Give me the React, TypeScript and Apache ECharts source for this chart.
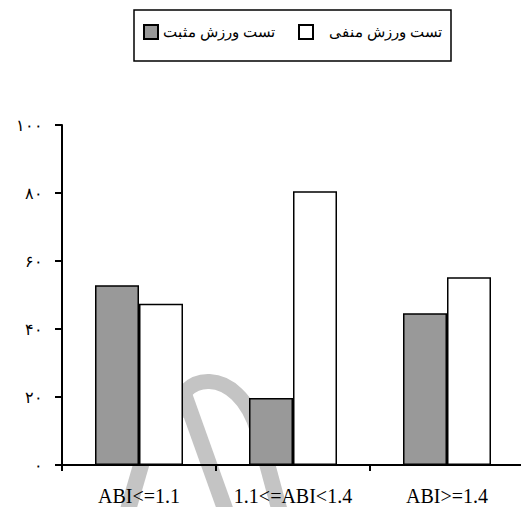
import React, { useEffect, useRef } from "react";
import * as echarts from "echarts";

const categories = ["ABI<=1.1", "1.1<=ABI<1.4", "ABI>=1.4"];
const seriesNames = ["تست ورزش مثبت", "تست ورزش منفی"];
const positiveValues = [52.9, 19.7, 44.6];
const negativeValues = [47.4, 80.5, 55.2];
const yMin = 0;
const yMax = 100;
const yInterval = 20;

const faDigits = "۰۱۲۳۴۵۶۷۸۹";
const toFa = (v: number | string) => String(v).replace(/\d/g, (d) => faDigits[+d]);

const SERIF = "Liberation Serif, Times New Roman, serif";
const WM = "#c4c4c4";

const legendText = { fontFamily: SERIF, fontSize: 15, color: "#000" };

export default function App() {
  const ref = useRef<HTMLDivElement>(null);
  useEffect(() => {
    if (!ref.current) return;
    const chart = echarts.init(ref.current, undefined, { renderer: "svg" });
    chart.setOption({
      animation: false,
      backgroundColor: "#ffffff",
      textStyle: { fontFamily: SERIF, color: "#000" },
      legend: [
        {
          left: 143,
          top: 24,
          padding: 0,
          itemWidth: 14,
          itemHeight: 14,
          icon: "rect",
          textStyle: legendText,
          data: [seriesNames[0]],
        },
        {
          left: 298,
          top: 24,
          padding: 0,
          itemWidth: 14,
          itemHeight: 14,
          icon: "rect",
          textStyle: legendText,
          formatter: (n: string) => "\u00A0\u00A0\u00A0" + n,
          data: [seriesNames[1]],
        },
      ],
      graphic: [
        {
          type: "rect",
          z: 10,
          shape: { x: 134, y: 10, width: 317, height: 51 },
          style: { fill: "none", stroke: "#000", lineWidth: 1.5 },
        },
        {
          type: "bezierCurve",
          z: 0,
          shape: { x1: 176, y1: 418, cpx1: 176, cpy1: 371, cpx2: 238, cpy2: 363, x2: 258, y2: 432 },
          style: { stroke: WM, lineWidth: 15, fill: "none" },
        },
        {
          type: "line",
          z: 0,
          shape: { x1: 258, y1: 430, x2: 280, y2: 512 },
          style: { stroke: WM, lineWidth: 16 },
        },
        {
          type: "line",
          z: 0,
          shape: { x1: 185, y1: 397, x2: 229, y2: 520 },
          style: { stroke: WM, lineWidth: 16 },
        },
        {
          type: "line",
          z: 0,
          shape: { x1: 160, y1: 400, x2: 128, y2: 510 },
          style: { stroke: WM, lineWidth: 16 },
        },
      ],
      grid: { left: 62, right: -3, top: 125, bottom: 42, containLabel: false, outerBoundsMode: "none" },
      xAxis: {
        type: "category",
        data: categories,
        z: 5,
        axisLine: { lineStyle: { color: "#000", width: 2 } },
        axisTick: { show: true, length: 6, lineStyle: { color: "#000", width: 2 } },
        axisLabel: { interval: 0, fontFamily: SERIF, fontSize: 20, lineHeight: 18, color: "#000", margin: 22 },
        splitLine: { show: false },
      },
      yAxis: {
        type: "value",
        min: yMin,
        max: yMax,
        interval: yInterval,
        z: 5,
        axisLine: { show: true, lineStyle: { color: "#000", width: 2 } },
        axisTick: { show: true, length: 7, lineStyle: { color: "#000", width: 2 } },
        axisLabel: { fontFamily: SERIF, fontSize: 16, color: "#000", margin: 19, formatter: (v: number) => toFa(v) },
        splitLine: { show: false },
      },
      series: [
        {
          name: seriesNames[0],
          type: "bar",
          data: positiveValues,
          barWidth: 44,
          barGap: "0%",
          itemStyle: { color: "#999999", borderColor: "#000", borderWidth: 1.5 },
        },
        {
          name: seriesNames[1],
          type: "bar",
          data: negativeValues,
          barWidth: 44,
          barGap: "0%",
          itemStyle: { color: "#ffffff", borderColor: "#000", borderWidth: 1.5 },
        },
      ],
    });
    return () => chart.dispose();
  }, []);
  return <div ref={ref} style={{ position: "fixed", left: 0, top: 0, width: 521, height: 507 }} />;
}
